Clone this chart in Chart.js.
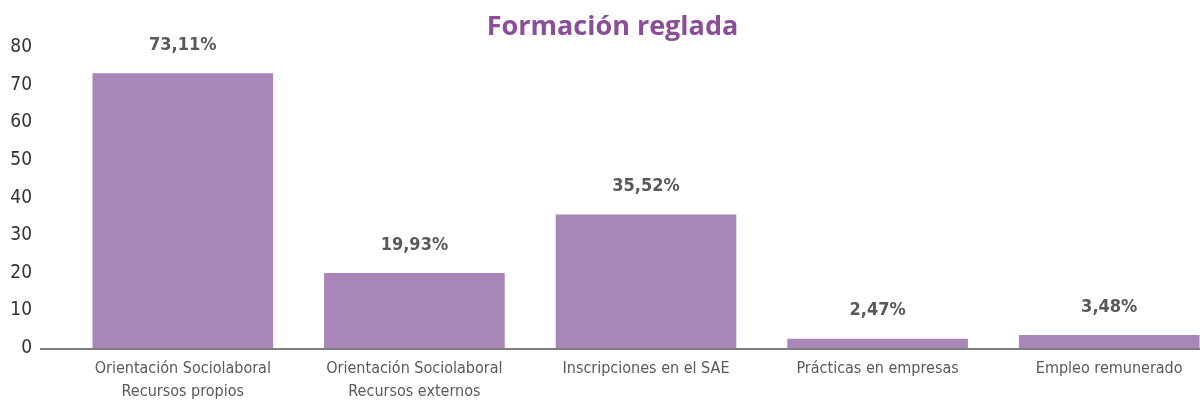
<!DOCTYPE html>
<html>
<head>
<meta charset="utf-8">
<script src="https://cdn.jsdelivr.net/npm/chart.js@4/dist/chart.umd.min.js"></script>
<style>
html,body{margin:0;padding:0;background:#fff;overflow:hidden;width:1200px;height:405px;}
#wrap{position:relative;width:1225px;height:405px;}
</style>
</head>
<body>
<div id="wrap"><canvas id="c" width="1225" height="405"></canvas></div>
<script>
const categories = [
  ["Orientación Sociolaboral", "Recursos propios"],
  ["Orientación Sociolaboral", "Recursos externos"],
  "Inscripciones en el SAE",
  "Prácticas en empresas",
  "Empleo remunerado"
];
const values = [73.11, 19.93, 35.52, 2.47, 3.48];
const valueLabels = ["73,11%", "19,93%", "35,52%", "2,47%", "3,48%"];
const yTicks = [0, 10, 20, 30, 40, 50, 60, 70, 80];
const chartTitle = "Formación reglada";

const NARROW = "'DejaVu Sans Condensed', 'DejaVu Sans', sans-serif";

const labelPlugin = {
  id: 'valueLabels',
  afterDatasetsDraw(chart) {
    const ctx = chart.ctx;
    const meta = chart.getDatasetMeta(0);
    ctx.save();
    ctx.font = "bold 18px " + NARROW;
    ctx.fillStyle = "#595959";
    ctx.textAlign = "center";
    ctx.textBaseline = "middle";
    meta.data.forEach((bar, i) => {
      ctx.fillText(valueLabels[i], bar.x, bar.y - 28);
    });
    ctx.restore();
  }
};
const baselinePlugin = {
  id: 'baseline',
  afterDatasetsDraw(chart) {
    const ctx = chart.ctx;
    const y = chart.scales.y.getPixelForValue(0);
    ctx.save();
    ctx.strokeStyle = "#7f7f7f";
    ctx.lineWidth = 2;
    ctx.beginPath();
    ctx.moveTo(40, y + 1);
    ctx.lineTo(chart.width, y + 1);
    ctx.stroke();
    ctx.restore();
  }
};

new Chart(document.getElementById('c'), {
  type: 'bar',
  data: {
    labels: categories,
    datasets: [{
      data: values,
      backgroundColor: '#a886b8',
      categoryPercentage: 0.78,
      barPercentage: 1.0
    }]
  },
  options: {
    responsive: false,
    animation: false,
    layout: { padding: { left: 0, right: 0, top: 0, bottom: 0 } },
    plugins: {
      legend: { display: false },
      tooltip: { enabled: false },
      title: {
        display: true,
        text: chartTitle,
        color: '#8a4d99',
        font: { family: "'Open Sans', 'DejaVu Sans', sans-serif", size: 27, weight: 'bold', lineHeight: 1.2 },
        padding: { top: 11, bottom: 4 }
      }
    },
    scales: {
      x: {
        afterFit(scale) { scale.height = 57; },
        grid: { display: false, drawTicks: false },
        border: { display: false },
        ticks: {
          color: '#595959',
          font: { family: NARROW, size: 16, lineHeight: 1.4375 },
          padding: 9,
          maxRotation: 0,
          autoSkip: false
        }
      },
      y: {
        min: 0, max: 80,
        afterFit(scale) { scale.width = 67; },
        afterBuildTicks(scale) { scale.ticks = yTicks.map(v => ({ value: v })); },
        grid: { display: false, drawTicks: false },
        border: { display: false },
        ticks: {
          color: '#333333',
          font: { family: NARROW, size: 19 },
          padding: 35
        }
      }
    }
  },
  plugins: [labelPlugin, baselinePlugin]
});
</script>
</body>
</html>
